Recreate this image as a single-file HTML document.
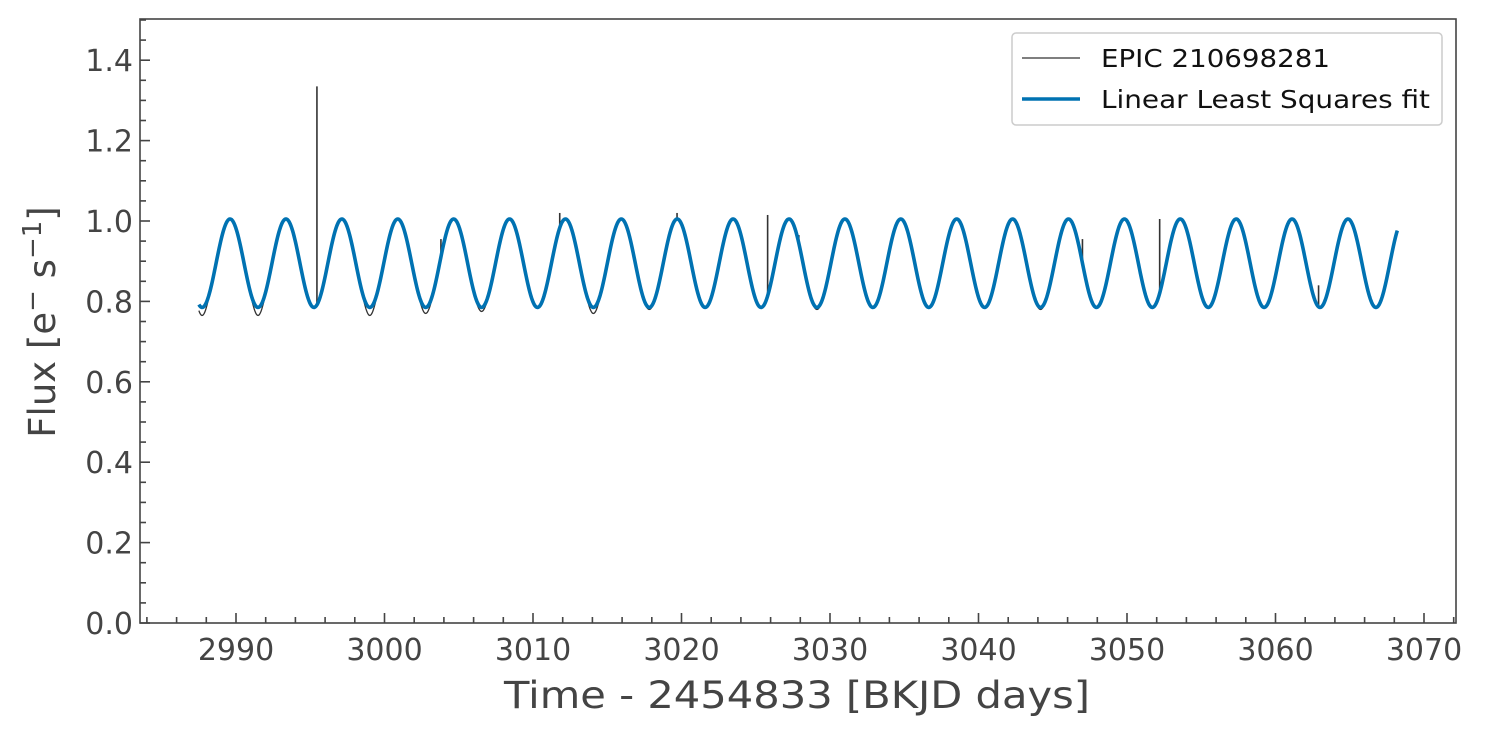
<!DOCTYPE html>
<html><head><meta charset="utf-8"><style>
html,body{margin:0;padding:0;background:#fff;}
svg{display:block;font-family:"DejaVu Sans","Liberation Sans",sans-serif;}
</style></head><body>
<svg id="chart" width="1485" height="737" viewBox="0 0 1485 737">
<g id="plot"></g>
</svg>
<script>
// ---- data ----
const xTicks = [2990,3000,3010,3020,3030,3040,3050,3060,3070];
const yTicks = [0.0,0.2,0.4,0.6,0.8,1.0,1.2,1.4];
const timeRange = [2987.5, 3068.2];
const fitMean = [0.895];
const fitAmp = [0.11];
const fitPeriod = [3.764];
const fitPeakTime = [2989.6];
// extra depth of observed troughs per cycle (flux units)
const troughExtra = [0.02,0.02,0.0,0.02,0.015,0.01,0.0,0.015,0.005,0.0,0.0,0.005,0.0,0.0,0.0,0.005,0.0,0.0,0.0,0.0,0.0,0.0];
// spikes: time, flux top
const spikeTimes = [2995.45,3003.8,3011.8,3019.7,3025.8,3027.9,3047.0,3052.2,3062.9];
const spikeFlux = [1.335,0.955,1.02,1.02,1.015,0.965,0.955,1.005,0.84];

const NS="http://www.w3.org/2000/svg";
const L=140,R=1456,T=19,B=623;
const X=t=>236+(t-2990)*14.85;
const Y=v=>623-v*402;
const g=document.getElementById('plot');
function el(tag,attrs,parent){const e=document.createElementNS(NS,tag);for(const k in attrs)e.setAttribute(k,attrs[k]);(parent||g).appendChild(e);return e;}
function fit(t){return fitMean[0]+fitAmp[0]*Math.cos(2*Math.PI*(t-fitPeakTime[0])/fitPeriod[0]);}
function obs(t){
  const ph=(t-fitPeakTime[0])/fitPeriod[0];
  const c=Math.round(ph-0.5)+1;
  const trough=Math.max(0,-Math.cos(2*Math.PI*ph));
  const ex=troughExtra[Math.min(Math.max(c,0),troughExtra.length-1)]||0;
  return fit(t)-ex*Math.pow(trough,4);
}
let d='';
const N=1600;
for(let i=0;i<=N;i++){
  const t=timeRange[0]+(timeRange[1]-timeRange[0])*i/N;
  d+=(i?'L':'M')+X(t).toFixed(2)+' '+Y(obs(t)).toFixed(2);
}
const obsPath=el('path',{d:d,fill:'none',stroke:'#333',"stroke-width":1.3});


spikeTimes.forEach((t,i)=>{
  const s=el('line',{x1:X(t),x2:X(t),y1:Y(obs(t)),y2:Y(spikeFlux[i]),stroke:'#333',"stroke-width":1.6});
  
  
});
let f='';
for(let i=0;i<=N;i++){
  const t=timeRange[0]+(timeRange[1]-timeRange[0])*i/N;
  f+=(i?'L':'M')+X(t).toFixed(2)+' '+Y(fit(t)).toFixed(2);
}
const fitPath=el('path',{d:f,fill:'none',stroke:'#0072b2',"stroke-width":3.6,"stroke-linejoin":"round"});


const fr=el('rect',{x:L,y:T,width:R-L,height:B-T,fill:'none',stroke:'#444',"stroke-width":1.6});


for(let v=0;v<=1.5001;v+=0.05){
  const major=Math.abs(v*5-Math.round(v*5))<1e-6;
  el('line',{x1:L,x2:L+(major?10:6),y1:Y(v),y2:Y(v),stroke:'#444',"stroke-width":1.6});
}
yTicks.forEach(v=>{
  const t=el('text',{x:L-7,y:Y(v)+11,"text-anchor":"end","font-size":30,fill:'#444'});
  t.textContent=v.toFixed(1);
  
  
});
for(let v=2984;v<=3072;v+=2){
  const major=v%10===0;
  el('line',{x1:X(v),x2:X(v),y1:B,y2:B-(major?10:6),stroke:'#444',"stroke-width":1.6});
}
xTicks.forEach(v=>{
  const t=el('text',{x:X(v),y:B+37,"text-anchor":"middle","font-size":30,fill:'#444'});
  t.textContent=v;
  
  
});
</script>
<script>
(function(){
const svg=document.getElementById('chart');
svg.insertAdjacentHTML('beforeend',
'<text x="504" y="708" textLength="586" lengthAdjust="spacingAndGlyphs" font-size="37" fill="#444">Time - 2454833 [BKJD days]</text>'+
'<text transform="translate(55,322) rotate(-90)" text-anchor="middle" font-size="37" fill="#444">Flux [e<tspan dy="-14" font-size="26">−</tspan><tspan dy="14"> s</tspan><tspan dy="-14" font-size="26">−1</tspan><tspan dy="14">]</tspan></text>'+
'<g>'+
'<rect x="1012" y="33" width="430" height="92" rx="4" fill="#fff" stroke="#ccc" stroke-width="1.5"/>'+
'<line x1="1022" x2="1080" y1="58" y2="58" stroke="#333" stroke-width="1.3"/>'+
'<text x="1101" y="67" textLength="229" lengthAdjust="spacingAndGlyphs" font-size="25" fill="#111">EPIC 210698281</text>'+
'<line x1="1022" x2="1080" y1="99" y2="99" stroke="#0072b2" stroke-width="3.6"/>'+
'<text x="1101" y="108" textLength="329" lengthAdjust="spacingAndGlyphs" font-size="25" fill="#111">Linear Least Squares fit</text>'+
'</g>');
})();
</script>
</body></html>
